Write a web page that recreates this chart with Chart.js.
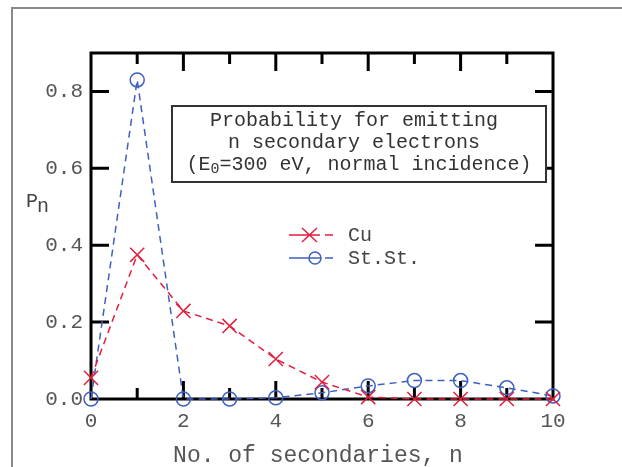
<!DOCTYPE html>
<html>
<head>
<meta charset="utf-8">
<script src="https://cdn.jsdelivr.net/npm/chart.js@4/dist/chart.umd.min.js"></script>
<style>
  html, body { margin: 0; padding: 0; background: #ffffff; }
  #wrap { width: 622px; height: 467px; }
</style>
</head>
<body>
<div id="wrap"><canvas id="c" width="622" height="467"></canvas></div>
<script>
// ---- data ----
const nValues   = [0, 1, 2, 3, 4, 5, 6, 7, 8, 9, 10];
const cuValues  = [0.055, 0.375, 0.229, 0.19, 0.104, 0.044, 0.005, 0.0, 0.0, 0.0, 0.0];
const ssValues  = [0.0, 0.83, 0.0, 0.0, 0.003, 0.016, 0.034, 0.048, 0.048, 0.029, 0.008];
const xTickValues = [0, 2, 4, 6, 8, 10];
const yTickValues = [0.0, 0.2, 0.4, 0.6, 0.8];
const seriesNames = ["Cu", "St.St."];
const titleLines = ["Probability for emitting", "n secondary electrons"];
const xTitle = "No. of secondaries, n";

const RED = "rgb(226,30,62)";
const BLUE = "rgb(62,96,190)";
const MONO = "'Liberation Mono', 'DejaVu Sans Mono', monospace";

const toXY = (arr) => arr.map((v, i) => ({ x: nValues[i], y: v }));

const framePlugin = {
  id: 'frame',
  beforeDraw(chart) {
    const ctx = chart.ctx;
    ctx.save();
    ctx.fillStyle = '#ffffff';
    ctx.fillRect(0, 0, chart.width, chart.height);
    // outer gray border (left + top)
    ctx.strokeStyle = '#8a8a8a';
    ctx.lineWidth = 2;
    ctx.beginPath();
    ctx.moveTo(12, 467);
    ctx.lineTo(12, 8);
    ctx.lineTo(622, 8);
    ctx.stroke();
    ctx.restore();
  },
  beforeDatasetsDraw(chart) {
    const ctx = chart.ctx;
    const a = chart.chartArea;
    const xs = chart.scales.x, ys = chart.scales.y;
    ctx.save();
    ctx.strokeStyle = '#000';
    ctx.lineWidth = 3;
    ctx.strokeRect(a.left, a.top, a.right - a.left, a.bottom - a.top);
    ctx.lineWidth = 3;
    ctx.beginPath();
    for (let i = 1; i < nValues.length - 1; i++) {
      const px = xs.getPixelForValue(nValues[i]);
      const len = (nValues[i] % 2 === 0) ? 18 : 11;
      ctx.moveTo(px, a.bottom); ctx.lineTo(px, a.bottom - len);
      ctx.moveTo(px, a.top); ctx.lineTo(px, a.top + len);
    }
    for (let j = 1; j < yTickValues.length; j++) {
      const py = ys.getPixelForValue(yTickValues[j]);
      ctx.moveTo(a.left, py); ctx.lineTo(a.left + 18, py);
      ctx.moveTo(a.right, py); ctx.lineTo(a.right - 18, py);
    }
    ctx.stroke();
    ctx.restore();
  },
  afterDraw(chart) {
    const ctx = chart.ctx;
    const a = chart.chartArea;
    ctx.save();
    // y-axis label P_n
    ctx.fillStyle = '#444';
    ctx.textBaseline = 'alphabetic';
    ctx.textAlign = 'left';
    ctx.font = '20px ' + MONO;
    ctx.fillText('P', 26, 207);
    ctx.fillText('n', 37, 212);
    // x-axis title
    ctx.font = '23px ' + MONO;
    ctx.fillStyle = '#555';
    ctx.textAlign = 'center';
    ctx.fillText(xTitle, 318, 462);

    // annotation box
    ctx.lineWidth = 2;
    ctx.strokeStyle = '#333';
    ctx.fillStyle = '#fff';
    ctx.fillRect(172, 106, 374, 76);
    ctx.strokeRect(172, 106, 374, 76);
    ctx.fillStyle = '#333';
    ctx.font = '20px ' + MONO;
    ctx.textAlign = 'center';
    ctx.textBaseline = 'middle';
    ctx.fillText(titleLines[0], 354, 121);
    ctx.fillText(titleLines[1], 354, 143);
    // line 3 with subscript
    const p1 = '(E', p2 = '0', p3 = '=300 eV, normal incidence)';
    const f = '20px ' + MONO, fs = '15px ' + MONO;
    ctx.font = f; const w1 = ctx.measureText(p1).width, w3 = ctx.measureText(p3).width;
    ctx.font = fs; const w2 = ctx.measureText(p2).width;
    let x0 = 359 - (w1 + w2 + w3) / 2;
    ctx.textAlign = 'left';
    ctx.font = f; ctx.fillText(p1, x0, 165);
    ctx.font = fs; ctx.fillText(p2, x0 + w1, 169);
    ctx.font = f; ctx.fillText(p3, x0 + w1 + w2, 165);

    // legend
    const legendY = [235, 258];
    const colors = [RED, BLUE];
    ctx.lineWidth = 1.5;
    for (let k = 0; k < 2; k++) {
      const y = legendY[k];
      ctx.strokeStyle = colors[k];
      ctx.beginPath();
      ctx.moveTo(289, y); ctx.lineTo(299, y);
      ctx.moveTo(325, y); ctx.lineTo(333, y);
      ctx.stroke();
      if (k === 0) {
        ctx.beginPath();
        ctx.moveTo(302, y - 7); ctx.lineTo(317, y + 7);
        ctx.moveTo(317, y - 7); ctx.lineTo(302, y + 7);
        ctx.moveTo(299, y); ctx.lineTo(320, y);
        ctx.stroke();
      } else {
        ctx.beginPath();
        ctx.arc(315, y, 6, 0, Math.PI * 2);
        ctx.moveTo(309, y); ctx.lineTo(321, y);
        ctx.moveTo(299, y); ctx.lineTo(309, y);
        ctx.stroke();
      }
      ctx.fillStyle = '#444';
      ctx.font = '20px ' + MONO;
      ctx.textBaseline = 'middle';
      ctx.fillText(seriesNames[k], 348, y + 1);
    }
    ctx.restore();
  }
};

new Chart(document.getElementById('c'), {
  type: 'line',
  data: {
    datasets: [
      {
        label: seriesNames[0],
        data: toXY(cuValues),
        borderColor: RED,
        borderWidth: 1.5,
        borderDash: [7, 5],
        pointStyle: 'crossRot',
        pointRadius: 10,
        pointBorderWidth: 1.5,
        pointBorderColor: RED,
        backgroundColor: RED,
        fill: false,
        tension: 0,
        clip: false
      },
      {
        label: seriesNames[1],
        data: toXY(ssValues),
        borderColor: BLUE,
        borderWidth: 1.5,
        borderDash: [7, 5],
        pointStyle: 'circle',
        pointRadius: 7,
        pointBorderWidth: 1.5,
        pointBorderColor: BLUE,
        pointBackgroundColor: 'rgba(0,0,0,0)',
        backgroundColor: 'rgba(0,0,0,0)',
        fill: false,
        tension: 0,
        clip: false
      }
    ]
  },
  options: {
    responsive: false,
    animation: false,
    devicePixelRatio: 1,
    layout: { padding: { left: 0, right: 69, top: 53, bottom: 0 } },
    plugins: { legend: { display: false }, tooltip: { enabled: false } },
    scales: {
      x: {
        type: 'linear',
        min: 0, max: 10,
        grid: { display: false, drawTicks: false },
        border: { display: false },
        afterBuildTicks: (s) => { s.ticks = xTickValues.map(v => ({ value: v })); },
        afterFit: (s) => { s.height = 68; },
        ticks: {
          color: '#555',
          font: { family: MONO, size: 21 },
          padding: 10,
          maxRotation: 0,
          callback: (v) => String(v)
        }
      },
      y: {
        type: 'linear',
        min: 0, max: 0.9,
        grid: { display: false, drawTicks: false },
        border: { display: false },
        afterBuildTicks: (s) => { s.ticks = yTickValues.map(v => ({ value: v })); },
        afterFit: (s) => { s.width = 91; },
        ticks: {
          color: '#555',
          font: { family: MONO, size: 21 },
          padding: 8,
          callback: (v) => Number(v).toFixed(1)
        }
      }
    }
  },
  plugins: [framePlugin]
});
</script>
</body>
</html>
